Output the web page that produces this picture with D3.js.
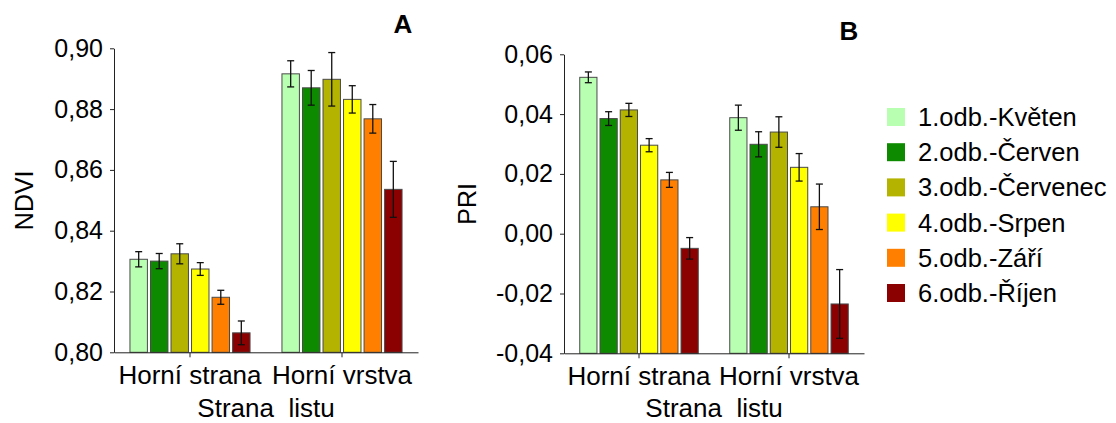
<!DOCTYPE html>
<html>
<head>
<meta charset="utf-8">
<script src="https://cdn.jsdelivr.net/npm/d3@7"></script>
<style>
  html, body { margin: 0; padding: 0; background: #fff; }
  svg { display: block; font-family: "Liberation Sans", Arial, sans-serif; }
</style>
</head>
<body>
<svg id="chart" width="1116" height="423"></svg>
<script>
// Leaf side categories and sampling dates (series)
const categories = ["Horní strana", "Horní vrstva"];
const series = ["1.odb.-Květen", "2.odb.-Červen", "3.odb.-Červenec", "4.odb.-Srpen", "5.odb.-Září", "6.odb.-Říjen"];
const colors = ["#b9ffb2", "#0e8a00", "#b3b300", "#ffff00", "#ff8000", "#8b0000"];

// NDVI means and error (per category, per series)
const ndviStrana = [0.8306, 0.8300, 0.8324, 0.8274, 0.8181, 0.8064];
const ndviStranaErr = [0.0025, 0.0025, 0.0033, 0.0021, 0.0023, 0.0039];
const ndviVrstva = [0.8916, 0.8870, 0.8898, 0.8832, 0.8768, 0.8536];
const ndviVrstvaErr = [0.0043, 0.0057, 0.0088, 0.0045, 0.0047, 0.0092];

// PRI means and error
const priStrana = [0.0523, 0.0385, 0.0414, 0.0296, 0.0180, -0.0049];
const priStranaErr = [0.0018, 0.0023, 0.0022, 0.0022, 0.0025, 0.0036];
const priVrstva = [0.0388, 0.0299, 0.0340, 0.0222, 0.0090, -0.0235];
const priVrstvaErr = [0.0042, 0.0042, 0.0051, 0.0046, 0.0076, 0.0115];

// Axis ticks
const ndviTicks = [0.80, 0.82, 0.84, 0.86, 0.88, 0.90];
const priTicks = [-0.04, -0.02, 0.00, 0.02, 0.04, 0.06];

const svg = d3.select("#chart");
const fmt = d3.format(".2f");
// decimal comma, plain hyphen for negatives
const czFmt = v => fmt(Math.abs(v) < 1e-9 ? 0 : v).replace("\u2212", "-").replace(".", ",");

function panel(opts) {
  const { left, right, top, bottom, domain, ticks, values, errors, yLabel, yLabelX, letter, letterX, letterY } = opts;
  const g = svg.append("g");

  const x0 = d3.scaleBand().domain(categories).range([left, right])
    .paddingInner(0.21).paddingOuter(0.105);
  const x1 = d3.scaleBand().domain(series).range([0, x0.bandwidth()]).paddingInner(0.15);
  const y = d3.scaleLinear().domain(domain).range([bottom, top]);

  // bars and error bars
  categories.forEach((c, ci) => {
    const rows = series.map((s, si) => ({ s, si, v: values[ci][si], e: errors[ci][si] }));
    const grp = g.append("g").attr("transform", `translate(${x0(c)},0)`);
    grp.selectAll("rect").data(rows).join("rect")
      .attr("x", d => x1(d.s))
      .attr("y", d => y(d.v))
      .attr("width", x1.bandwidth())
      .attr("height", d => y(domain[0]) - y(d.v))
      .attr("fill", d => colors[d.si])
      .attr("stroke", "#4a4a4a")
      .attr("stroke-width", 1);

    const eb = grp.selectAll("g.err").data(rows).join("g").attr("class", "err")
      .attr("stroke", "#111").attr("stroke-width", 1.3);
    const cx = d => x1(d.s) + x1.bandwidth() / 2;
    eb.append("line").attr("x1", cx).attr("x2", cx)
      .attr("y1", d => y(d.v + d.e)).attr("y2", d => y(d.v - d.e));
    eb.append("line").attr("x1", d => cx(d) - 3.5).attr("x2", d => cx(d) + 3.5)
      .attr("y1", d => y(d.v + d.e)).attr("y2", d => y(d.v + d.e));
    eb.append("line").attr("x1", d => cx(d) - 3.5).attr("x2", d => cx(d) + 3.5)
      .attr("y1", d => y(d.v - d.e)).attr("y2", d => y(d.v - d.e));
  });

  // y axis
  const ya = g.append("g").attr("transform", `translate(${left},0)`)
    .call(d3.axisLeft(y).tickValues(ticks).tickFormat(czFmt).tickSize(4).tickPadding(7).tickSizeOuter(0));
  ya.select(".domain").attr("stroke", "#222");
  ya.selectAll(".tick line").attr("stroke", "#222");
  ya.selectAll("text").attr("font-size", 25).attr("fill", "#000")
    .attr("font-family", "Liberation Sans, Arial, sans-serif");

  // x axis
  const xa = g.append("g").attr("transform", `translate(0,${bottom})`)
    .call(d3.axisBottom(x0).tickSize(5).tickPadding(8).tickSizeOuter(0));
  xa.select(".domain").attr("stroke", "#222");
  xa.selectAll(".tick line").attr("stroke", "#222");
  xa.selectAll("text").attr("font-size", 26).attr("fill", "#000")
    .attr("font-family", "Liberation Sans, Arial, sans-serif");

  // axis titles
  g.append("text")
    .attr("transform", `translate(${yLabelX},${(top + bottom) / 2}) rotate(-90)`)
    .attr("text-anchor", "middle").attr("font-size", 25).text(yLabel);
  g.append("text")
    .attr("x", (left + right) / 2).attr("y", 417)
    .attr("text-anchor", "middle").attr("font-size", 26)
    .attr("xml:space", "preserve").style("white-space", "pre")
    .text("Strana  listu");

  // panel letter
  g.append("text").attr("x", letterX).attr("y", letterY)
    .attr("text-anchor", "middle").attr("font-size", 26).attr("font-weight", "bold")
    .text(letter);
}

panel({
  left: 114, right: 418, top: 48.3, bottom: 352.3,
  domain: [0.80, 0.90], ticks: ndviTicks,
  values: [ndviStrana, ndviVrstva], errors: [ndviStranaErr, ndviVrstvaErr],
  yLabel: "NDVI", yLabelX: 33, letter: "A", letterX: 403, letterY: 33
});

panel({
  left: 564, right: 864, top: 54.3, bottom: 353.3,
  domain: [-0.04, 0.06], ticks: priTicks,
  values: [priStrana, priVrstva], errors: [priStranaErr, priVrstvaErr],
  yLabel: "PRI", yLabelX: 476, letter: "B", letterX: 849, letterY: 40
});

// legend
const legend = svg.append("g").attr("transform", "translate(887,108)");
const items = legend.selectAll("g").data(series).join("g")
  .attr("transform", (d, i) => `translate(0,${i * 35.2})`);
items.append("rect").attr("width", 18).attr("height", 18)
  .attr("fill", (d, i) => colors[i]);
items.append("text").attr("x", 31).attr("y", 18)
  .attr("font-size", 25.5).attr("fill", "#000")
  .text(d => d);
</script>
</body>
</html>
